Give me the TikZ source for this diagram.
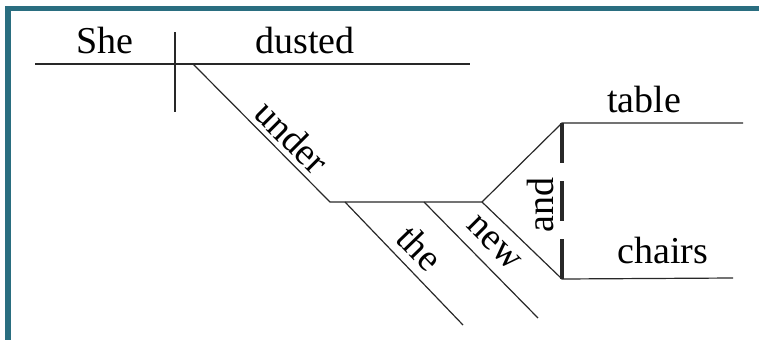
\documentclass[tikz,border=0pt]{standalone}
\usepackage{fontspec}
\setmainfont{Liberation Serif}
\usepackage{xcolor}
\definecolor{frame}{RGB}{42, 110, 128}
\definecolor{ink}{RGB}{40, 40, 40}
\usepackage{tikz}

\tikzset{
	word/.style={font=\fontsize{19}{22}\selectfont, inner sep=0pt},
	rule/.style={line width=0.6pt, ink},
	conj/.style={line width=1.8pt, ink, dash pattern=on 20pt off 9pt}
}

\begin{document}
\begin{tikzpicture}[x=0.5pt, y=0.5pt]
		\useasboundingbox (0,0) rectangle (759,339);
		\begin{scope}
			\clip (0,0) rectangle (759,339);
			\draw[line width=2.75pt, frame] (8.2,330.7) rectangle (820,-60);
		\end{scope}
		% base line: subject | predicate
		\coordinate (base-l) at (35,275);
		\coordinate (base-r) at (470,275);
		\coordinate (div-t) at (175,307);
		\coordinate (div-b) at (175,227);
		\coordinate (prep) at (193,275);
		\coordinate (obj-l) at (330,137);
		\coordinate (fork) at (482,137);
		\coordinate (the-t) at (345,137);
		\coordinate (the-b) at (463,14);
		\coordinate (new-t) at (424,137);
		\coordinate (new-b) at (538,21);
		\coordinate (table-l) at (562,216);
		\coordinate (table-r) at (743,216);
		\coordinate (chairs-l) at (562,60);
		\coordinate (chairs-r) at (733,61);
		\draw[rule] (base-l) -- (base-r);
		\draw[rule] (div-t) -- (div-b);
		\draw[rule] (prep) -- (obj-l) -- (fork);
		\draw[rule] (the-t) -- (the-b);
		\draw[rule] (new-t) -- (new-b);
		\draw[rule] (fork) -- (table-l) -- (table-r);
		\draw[rule] (fork) -- (chairs-l) -- (chairs-r);
		\draw[conj] (table-l) -- (chairs-l);
		% words
		\node[word, anchor=base] (she) at (105,286) {She};
		\node[word, anchor=base] (dusted) at (305,286) {dusted};
		\node[word, rotate=-45] (under) at (292,202) {under};
		\node[word, rotate=-46] (the) at (420,91) {the};
		\node[word, rotate=-45] (new) at (494,96) {new};
		\node[word, rotate=90] (and) at (540,134) {and};
		\node[word, anchor=base] (table) at (644,227) {table};
		\node[word, anchor=base] (chairs) at (663,76) {chairs};
	\end{tikzpicture}
\end{document}
